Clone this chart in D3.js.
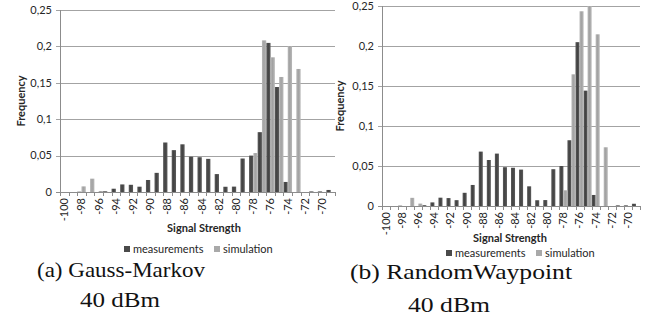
<!DOCTYPE html>
<html>
<head>
<meta charset="utf-8">
<script src="https://cdn.jsdelivr.net/npm/d3@7/dist/d3.min.js"></script>
<style>
  body { margin: 0; background: #fff; }
  svg text { font-family: Lato, "Open Sans", sans-serif; fill: #262626; }
  .tick-label { font-size: 11px; }
  .axis-title { font-size: 11px; font-weight: bold; }
  .legend-text { font-size: 11px; }
  .caption { font-family: "Liberation Serif", "DejaVu Serif", serif !important; font-size: 21px; fill: #111 !important; }
</style>
</head>
<body>
<svg id="chart" width="659" height="326"></svg>
<script>

// signal strength bins (dBm)
var categories = [-100, -99, -98, -97, -96, -95, -94, -93, -92, -91, -90, -89, -88, -87, -86, -85,
                  -84, -83, -82, -81, -80, -79, -78, -77, -76, -75, -74, -73, -72, -71, -70, -69];

// measured frequencies (same in both panels)
var measurements = [0, 0, 0.0004, 0, 0, 0.001, 0.0045, 0.0104, 0.0099, 0.0073, 0.0165, 0.0263, 0.068, 0.0575, 0.0655, 0.0485,
                    0.0478, 0.0455, 0.0246, 0.0072, 0.0074, 0.046, 0.050, 0.0822, 0.2048, 0.1442, 0.0138, 0, 0, 0.0008, 0.0008, 0.0028];

// simulated frequencies, Gauss-Markov
var simGaussMarkov = [0, 0, 0.0077, 0.0183, 0.0014, 0, 0, 0, 0, 0, 0, 0, 0, 0, 0, 0,
                      0, 0, 0, 0, 0, 0, 0.0535, 0.2083, 0.185, 0.158, 0.2005, 0.169, 0, 0, 0, 0];

// simulated frequencies, RandomWaypoint
var simRandomWaypoint = [0, 0, 0, 0.0102, 0.003, 0, 0, 0, 0, 0, 0, 0, 0, 0, 0, 0,
                         0, 0, 0, 0, 0, 0, 0.0196, 0.1646, 0.2434, 0.25, 0.2146, 0.0734, 0, 0, 0, 0];

var yTicks = [0, 0.05, 0.1, 0.15, 0.2, 0.25];
var xTickLabels = [-100, -98, -96, -94, -92, -90, -88, -86, -84, -82, -80, -78, -76, -74, -72, -70];
var seriesNames = ["measurements", "simulation"];
var seriesColors = ["#4a4a4a", "#a9a9a9"];

var svg = d3.select("#chart");

// excel-ish shading on the bars
var defs = svg.append("defs");
function addGradient(id, edge, mid) {
  var g = defs.append("linearGradient").attr("id", id)
    .attr("x1", "0%").attr("x2", "100%").attr("y1", "0%").attr("y2", "0%");
  g.append("stop").attr("offset", "0%").attr("stop-color", edge);
  g.append("stop").attr("offset", "45%").attr("stop-color", mid);
  g.append("stop").attr("offset", "100%").attr("stop-color", edge);
}
addGradient("grad-dark", "#5c5c5c", "#424242");
addGradient("grad-light", "#b8b8b8", "#a2a2a2");
var fills = ["url(#grad-dark)", "url(#grad-light)"];

function yFormat(v) {
  return String(v).replace(".", ",");
}

function drawPanel(cfg) {
  var g = svg.append("g");

  var x = d3.scaleBand()
    .domain(categories)
    .range([cfg.left, cfg.right])
    .padding(0);

  var xs = d3.scaleBand()
    .domain(seriesNames)
    .range([0, x.bandwidth()])
    .padding(0);

  var y = d3.scaleLinear()
    .domain([0, 0.25])
    .range([cfg.bottom, cfg.top]);

  // gridlines + y ticks
  g.selectAll(".grid")
    .data(yTicks.slice(1))
    .enter().append("line")
    .attr("x1", cfg.left - 4)
    .attr("x2", cfg.right)
    .attr("y1", function(d) { return Math.round(y(d)) + 0.5; })
    .attr("y2", function(d) { return Math.round(y(d)) + 0.5; })
    .attr("stroke", "#a3a3a3")
    .attr("stroke-width", 1);

  g.selectAll(".ylab")
    .data(yTicks)
    .enter().append("text")
    .attr("class", "tick-label")
    .attr("x", cfg.left - 8)
    .attr("y", function(d) { return y(d); })
    .attr("dy", "0.35em")
    .attr("text-anchor", "end")
    .text(yFormat);

  // bars
  var series = [measurements, cfg.sim];
  series.forEach(function(vals, si) {
    g.selectAll(".bar" + si)
      .data(categories.map(function(c, i) { return { cat: c, v: vals[i] }; }))
      .enter().append("rect")
      .attr("x", function(d) { return x(d.cat) + xs(seriesNames[si]); })
      .attr("width", xs.bandwidth())
      .attr("y", function(d) { return y(d.v); })
      .attr("height", function(d) { return cfg.bottom - y(d.v); })
      .attr("fill", fills[si]);
  });

  // axes lines
  g.append("line")
    .attr("x1", Math.round(cfg.left) + 0.5).attr("x2", Math.round(cfg.left) + 0.5)
    .attr("y1", cfg.top).attr("y2", cfg.bottom)
    .attr("stroke", "#8c8c8c");
  g.append("line")
    .attr("x1", cfg.left - 4).attr("x2", cfg.right)
    .attr("y1", Math.round(cfg.bottom) + 0.5).attr("y2", Math.round(cfg.bottom) + 0.5)
    .attr("stroke", "#8c8c8c");

  // category boundary ticks
  var bounds = categories.map(function(c) { return x(c); }).concat([cfg.right]);
  g.selectAll(".xtick")
    .data(bounds)
    .enter().append("line")
    .attr("x1", function(d) { return Math.round(d) + 0.5; })
    .attr("x2", function(d) { return Math.round(d) + 0.5; })
    .attr("y1", cfg.bottom)
    .attr("y2", cfg.bottom + 4)
    .attr("stroke", "#8c8c8c");

  g.selectAll(".xlab")
    .data(xTickLabels)
    .enter().append("text")
    .attr("class", "tick-label")
    .attr("transform", function(d) {
      return "translate(" + (x(d) + x.bandwidth() / 2) + "," + (cfg.bottom + 6) + ") rotate(-90)";
    })
    .attr("dy", "0.35em")
    .attr("text-anchor", "end")
    .text(function(d) { return d; });

  // titles
  g.append("text")
    .attr("class", "axis-title")
    .attr("transform", "translate(" + cfg.yTitleX + "," + ((cfg.top + cfg.bottom) / 2) + ") rotate(-90)")
    .attr("text-anchor", "middle")
    .attr("dy", "0.35em")
    .text("Frequency");

  g.append("text")
    .attr("class", "axis-title")
    .attr("x", cfg.xTitleX)
    .attr("y", cfg.xTitleY)
    .attr("text-anchor", "middle")
    .text("Signal Strength");

  // legend
  var leg = g.append("g").attr("transform", "translate(" + cfg.legendX + "," + cfg.legendY + ")");
  var legX = [0, 90];
  seriesNames.forEach(function(name, i) {
    leg.append("rect")
      .attr("x", legX[i]).attr("y", -7)
      .attr("width", 6).attr("height", 6)
      .attr("fill", seriesColors[i]);
    leg.append("text")
      .attr("class", "legend-text")
      .attr("x", legX[i] + 9)
      .attr("y", 0)
      .text(name);
  });

  // subfigure caption
  cfg.caption.forEach(function(line, i) {
    svg.append("text")
      .attr("class", "caption")
      .attr("x", cfg.captionX[i])
      .attr("y", cfg.captionY[i])
      .attr("text-anchor", "middle")
      .attr("textLength", cfg.captionW[i])
      .attr("lengthAdjust", "spacingAndGlyphs")
      .text(line);
  });
}

drawPanel({
  sim: simGaussMarkov,
  left: 60, right: 335, top: 10, bottom: 192,
  yTitleX: 21, xTitleX: 204, xTitleY: 232,
  legendX: 124, legendY: 253,
  caption: ["(a) Gauss-Markov", "40 dBm"],
  captionX: [121, 120], captionY: [277, 307], captionW: [168, 80]
});

drawPanel({
  sim: simRandomWaypoint,
  left: 382, right: 640, top: 6, bottom: 206,
  yTitleX: 340, xTitleX: 510, xTitleY: 242,
  legendX: 446, legendY: 257,
  caption: ["(b) RandomWaypoint", "40 dBm"],
  captionX: [461, 449], captionY: [279, 312], captionW: [222, 82]
});

</script>
</body>
</html>
